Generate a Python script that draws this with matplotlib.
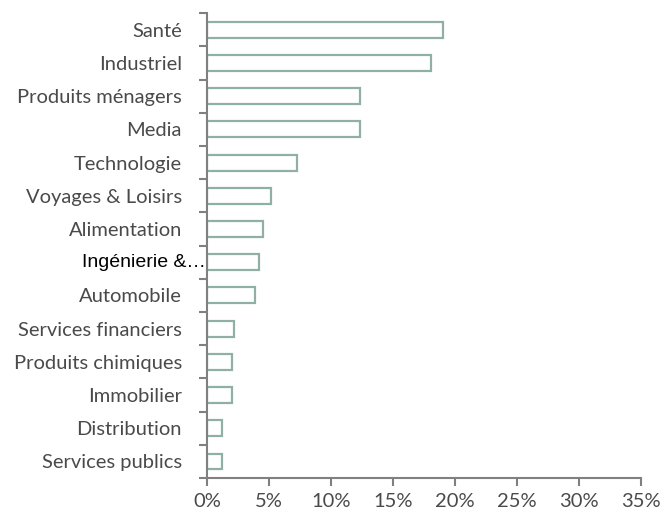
import matplotlib
matplotlib.use("Agg")
import matplotlib.pyplot as plt
import numpy as np
from matplotlib.ticker import FixedLocator
from matplotlib.transforms import ScaledTranslation

categories = ["Santé", "Industriel", "Produits ménagers", "Media", "Technologie",
              "Voyages & Loisirs", "Alimentation", "Ingénierie &…", "Automobile",
              "Services financiers", "Produits chimiques", "Immobilier",
              "Distribution", "Services publics"]
values = [19.0, 18.1, 12.3, 12.3, 7.3, 5.2, 4.5, 4.2, 3.9, 2.2, 2.0, 2.0, 1.2, 1.2]
xticks = [0, 5, 10, 15, 20, 25, 30, 35]
xticklabels = ["0%", "5%", "10%", "15%", "20%", "25%", "30%", "35%"]

fig = plt.figure(figsize=(6.61, 5.07), dpi=100)
ax = fig.add_axes([0.313, 0.057, 0.657, 0.917])

n = len(categories)
y = np.arange(n)
ax.barh(y, values, height=0.48, facecolor="white", edgecolor="#8fb0a3", linewidth=1.6)
ax.set_ylim(n - 0.5, -0.5)
ax.set_xlim(0, 35)

for s in ["top", "right"]:
    ax.spines[s].set_visible(False)
for s in ["left", "bottom"]:
    ax.spines[s].set_color("#808080")
    ax.spines[s].set_linewidth(1.5)

ax.set_yticks(y)
ax.set_yticklabels(categories)
ax.yaxis.set_minor_locator(FixedLocator(np.arange(-0.5, n, 1.0)))
ax.tick_params(axis="y", which="major", length=0, pad=18)
ax.tick_params(axis="y", which="minor", length=6, width=1.5, color="#808080")
ax.set_xticks(xticks)
ax.set_xticklabels(xticklabels)
ax.tick_params(axis="x", length=6, width=1.5, color="#808080", pad=5)

for lab in ax.get_yticklabels() + ax.get_xticklabels():
    lab.set_fontfamily("Lato")
    lab.set_fontweight("normal")
    lab.set_fontsize(14.5)
    lab.set_color("#4a4a4a")

# special label (different font, overlapping the axis)
special = ax.get_yticklabels()[7]
special.set_visible(False)
ax.text(0.0, 7, categories[7], transform=ax.get_yaxis_transform() + ScaledTranslation(-1 / 100, 0, fig.dpi_scale_trans),
        ha="right", va="center", fontfamily="Liberation Sans", fontsize=14, color="black")

fig.savefig("out.png", dpi=100)
